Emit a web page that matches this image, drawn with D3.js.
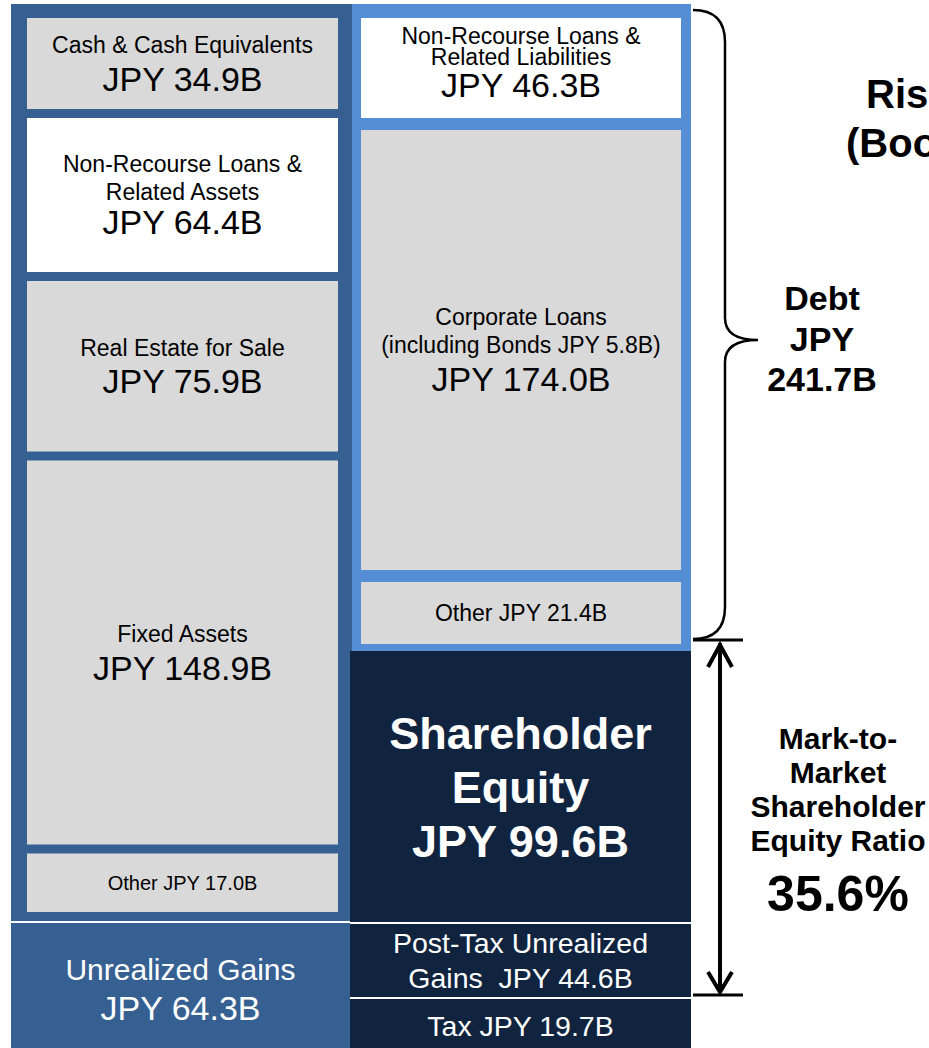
<!DOCTYPE html>
<html><head><meta charset="utf-8">
<script src="https://cdn.jsdelivr.net/npm/d3@7"></script>
<style>body{margin:0;background:#fff} svg{display:block}</style>
</head><body>
<svg id="chart" width="929" height="1048"></svg>
<script>
// ---------------- data ----------------
const assetCategories = [["Cash & Cash Equivalents"], ["Non-Recourse Loans &", "Related Assets"], ["Real Estate for Sale"], ["Fixed Assets"], ["Other"]];
const assetValues = [34.9, 64.4, 75.9, 148.9, 17.0];
const unrealizedCategories = [["Unrealized Gains"]];
const unrealizedValues = [64.3];
const debtCategories = [["Non-Recourse Loans &", "Related Liabilities"], ["Corporate Loans", "(including Bonds JPY 5.8B)"], ["Other"]];
const debtValues = [46.3, 174.0, 21.4];
const equityCategories = [["Shareholder", "Equity"], ["Post-Tax Unrealized", "Gains"], ["Tax"]];
const equityValues = [99.6, 44.6, 19.7];
const debtLabel = ["Debt", "JPY"];
const debtTotal = [241.7];
const ratioLabel = ["Mark-to-", "Market", "Shareholder", "Equity Ratio"];
const equityRatio = [35.6];
const titleLines = ["Risk Assets", "(Book Value)"];

// ---------------- helpers ----------------
const fmt = v => "JPY " + v.toFixed(1) + "B";
const sum = a => a.reduce((s, v) => s + v, 0);
const cum = a => { let s = 0; return [0, ...a.map(v => (s += v))]; };
const FONT = "'Liberation Sans', Arial, Helvetica, sans-serif";
const COL = { frameL: "#376092", frameR: "#558ED5", gray: "#D9D9D9", white: "#FFFFFF", navy: "#11243F", ink: "#000000" };

const svg = d3.select("#chart").attr("font-family", FONT);

// ---------------- scales (piecewise: the diagram is not strictly proportional) ----------------
const totalAssets = sum(assetValues);
const totalLeft = totalAssets + sum(unrealizedValues);
const yLeftCol = d3.scaleLinear().domain([0, totalAssets, totalLeft]).range([4, 922, 1048]);
const yAssets = d3.scaleLinear().domain(cum(assetValues)).range([13.5, 113.5, 276.5, 456, 849, 916.5]);

const debtSum = sum(debtValues);
const yRightCol = d3.scaleLinear().domain(cum([debtSum, ...equityValues])).range([4, 651, 923, 998, 1048]);
const yDebt = d3.scaleLinear().domain(cum(debtValues)).range([12, 124, 576, 650]);

const xCols = { leftFrame: [11, 352], leftInner: [27, 338], rightFrame: [352, 691], rightInner: [361, 681], navy: [350, 691] };

function drawLines(g, lines, cx, cy, opts) {
  const b = [0];
  for (let i = 1; i < lines.length; i++) {
    const prev = lines[i - 1], cur = lines[i];
    const f = cur.size > prev.size ? opts.valueLead : opts.lead;
    b.push(b[i - 1] + f * cur.size);
  }
  const top = -0.716 * lines[0].size, bottom = b[b.length - 1];
  const shift = cy - (top + bottom) / 2 + (opts.dy || 0);
  g.selectAll(null).data(lines).join("text")
    .attr("x", cx).attr("y", (d, i) => b[i] + shift)
    .attr("text-anchor", opts.anchor || "middle")
    .attr("font-size", d => d.size)
    .attr("font-weight", d => d.weight || "normal")
    .attr("fill", opts.fill)
    .style("white-space", "pre")
    .text(d => d.t);
}

// ---------------- left column ----------------
const gL = svg.append("g");
gL.append("rect")
  .attr("x", xCols.leftFrame[0]).attr("width", xCols.leftFrame[1] - xCols.leftFrame[0])
  .attr("y", yLeftCol(0)).attr("height", yLeftCol(totalAssets) - 1 - yLeftCol(0))
  .attr("fill", COL.frameL);
gL.append("rect")
  .attr("x", xCols.leftFrame[0]).attr("width", xCols.navy[0] - xCols.leftFrame[0])
  .attr("y", yLeftCol(totalAssets) + 1).attr("height", yLeftCol(totalLeft) - yLeftCol(totalAssets) - 1)
  .attr("fill", COL.frameL);

const assetCum = cum(assetValues);
const assetFill = [COL.gray, COL.white, COL.gray, COL.gray, COL.gray];
const assetBoxes = assetValues.map((v, i) => ({
  v, i, y0: yAssets(assetCum[i]) + 4.5, y1: yAssets(assetCum[i + 1]) - 4.5
}));
gL.selectAll("rect.asset").data(assetBoxes).join("rect").attr("class", "asset")
  .attr("x", xCols.leftInner[0]).attr("width", xCols.leftInner[1] - xCols.leftInner[0])
  .attr("y", d => d.y0).attr("height", d => d.y1 - d.y0)
  .attr("fill", d => assetFill[d.i]);

const cxLI = (xCols.leftInner[0] + xCols.leftInner[1]) / 2;
assetBoxes.forEach(d => {
  const lab = assetCategories[d.i];
  let lines;
  if (d.i === assetValues.length - 1) lines = [{ t: lab[0] + " " + fmt(d.v), size: 20 }];
  else lines = lab.map(t => ({ t, size: 23 })).concat([{ t: fmt(d.v), size: 34 }]);
  drawLines(gL, lines, cxLI, (d.y0 + d.y1) / 2, { fill: COL.ink, lead: 1.21, valueLead: d.i === 1 ? 1.0 : 1.11 });
});

// unrealized gains text
drawLines(gL, [{ t: unrealizedCategories[0][0], size: 30 }, { t: fmt(unrealizedValues[0]), size: 34 }],
  (xCols.leftFrame[0] + xCols.navy[0]) / 2, (yLeftCol(totalAssets) + 1 + yLeftCol(totalLeft)) / 2,
  { fill: COL.white, lead: 1.2, valueLead: 1.18, dy: 3.5 });

// ---------------- right column ----------------
const gR = svg.append("g");
gR.append("rect")
  .attr("x", xCols.rightFrame[0]).attr("width", xCols.rightFrame[1] - xCols.rightFrame[0])
  .attr("y", yRightCol(0)).attr("height", yRightCol(debtSum) - yRightCol(0))
  .attr("fill", COL.frameR);

const debtCum = cum(debtValues);
const debtFill = [COL.white, COL.gray, COL.gray];
const debtBoxes = debtValues.map((v, i) => ({ v, i, y0: yDebt(debtCum[i]) + 6, y1: yDebt(debtCum[i + 1]) - 6 }));
gR.selectAll("rect.debt").data(debtBoxes).join("rect").attr("class", "debt")
  .attr("x", xCols.rightInner[0]).attr("width", xCols.rightInner[1] - xCols.rightInner[0])
  .attr("y", d => d.y0).attr("height", d => d.y1 - d.y0)
  .attr("fill", d => debtFill[d.i]);

const cxRI = (xCols.rightInner[0] + xCols.rightInner[1]) / 2;
debtBoxes.forEach(d => {
  const lab = debtCategories[d.i];
  let lines, opts = { fill: COL.ink, lead: 1.2, valueLead: 1.12 };
  if (d.i === debtValues.length - 1) lines = [{ t: lab[0] + " " + fmt(d.v), size: 23 }];
  else lines = lab.map(t => ({ t, size: 23 })).concat([{ t: fmt(d.v), size: 34 }]);
  if (d.i === 0) opts = { fill: COL.ink, lead: 0.92, valueLead: 0.93, dy: -6 };
  drawLines(gR, lines, cxRI, (d.y0 + d.y1) / 2, opts);
});

// equity blocks
const eqCum = cum([debtSum, ...equityValues]);
const eqBoxes = equityValues.map((v, i) => ({
  v, i,
  y0: yRightCol(eqCum[i + 1]) + (i === 0 ? 0 : 1),
  y1: yRightCol(eqCum[i + 2]) - (i === equityValues.length - 1 ? 0 : 1)
}));
gR.selectAll("rect.eq").data(eqBoxes).join("rect").attr("class", "eq")
  .attr("x", xCols.navy[0]).attr("width", xCols.navy[1] - xCols.navy[0])
  .attr("y", d => d.y0).attr("height", d => d.y1 - d.y0)
  .attr("fill", COL.navy);

const cxN = (xCols.navy[0] + xCols.navy[1]) / 2;
eqBoxes.forEach(d => {
  const lab = equityCategories[d.i];
  let lines, opts;
  if (d.i === 0) {
    lines = lab.map(t => ({ t, size: 45, weight: "bold" })).concat([{ t: fmt(d.v), size: 45, weight: "bold" }]);
    opts = { fill: COL.white, lead: 1.2, valueLead: 1.2 };
  } else if (d.i === 1) {
    lines = [{ t: lab[0], size: 28.5 }, { t: lab[1] + "  " + fmt(d.v), size: 28.5 }];
    opts = { fill: COL.white, lead: 1.21, valueLead: 1.21 };
  } else {
    lines = [{ t: lab[0] + " " + fmt(d.v), size: 28.5 }];
    opts = { fill: COL.white, lead: 1.2, valueLead: 1.2, dy: 2 };
  }
  drawLines(gR, lines, cxN, (d.y0 + d.y1) / 2, opts);
});

// ---------------- annotations ----------------
const gA = svg.append("g").attr("fill", "none").attr("stroke", COL.ink);
const bTop = yRightCol(0) + 6, bBot = yRightCol(debtSum) - 12;
const bx0 = xCols.rightFrame[1] + 2, bx1 = bx0 + 32, bTip = bx1 + 33;
const tipY = (bTop + bBot) / 2 + 15.5;
const r = 32, rt = 22;
gA.append("path")
  .attr("stroke-width", 2.5)
  .attr("d", `M${bx0},${bTop} Q${bx1},${bTop} ${bx1},${bTop + r} L${bx1},${tipY - rt} Q${bx1},${tipY} ${bTip},${tipY}` +
             ` Q${bx1},${tipY} ${bx1},${tipY + rt} L${bx1},${bBot - r} Q${bx1},${bBot} ${bx0},${bBot}`);

// mark-to-market span: shareholder equity + post-tax unrealized gains
const aTop = yRightCol(debtSum) - 11, aBot = yRightCol(debtSum + equityValues[0] + equityValues[1]) - 3;
const ax = 720;
gA.selectAll("line.tick").data([aTop, aBot]).join("line").attr("class", "tick")
  .attr("x1", bx0).attr("x2", bx0 + 50).attr("y1", d => d).attr("y2", d => d).attr("stroke-width", 3);
gA.append("line").attr("x1", ax).attr("x2", ax).attr("y1", aTop + 3).attr("y2", aBot - 3).attr("stroke-width", 4);
gA.append("path").attr("stroke-width", 4).attr("stroke-linejoin", "miter")
  .attr("d", `M${ax - 12},${aTop + 27} L${ax},${aTop + 5} L${ax + 12},${aTop + 27}`);
gA.append("path").attr("stroke-width", 4).attr("stroke-linejoin", "miter")
  .attr("d", `M${ax - 12},${aBot - 23} L${ax},${aBot - 3} L${ax + 12},${aBot - 23}`);

const gT = svg.append("g");
drawLines(gT, debtLabel.map(t => ({ t, size: 34, weight: "bold" })).concat([{ t: debtTotal[0].toFixed(1) + "B", size: 34, weight: "bold" }]),
  822, tipY - 1.5, { fill: COL.ink, lead: 1.19, valueLead: 1.19 });
drawLines(gT, ratioLabel.map(t => ({ t, size: 30, weight: "bold" })).concat([{ t: equityRatio[0].toFixed(1) + "%", size: 50, weight: "bold" }]),
  838, (aTop + aBot) / 2 + 1.5, { fill: COL.ink, lead: 1.13, valueLead: 1.2 });

gT.selectAll("text.title").data(titleLines).join("text").attr("class", "title")
  .attr("x", (d, i) => i === 0 ? 866 : 846).attr("y", (d, i) => 108 + i * 49)
  .attr("font-size", 40).attr("font-weight", "bold").attr("fill", COL.ink)
  .text(d => d);
</script>
</body></html>
